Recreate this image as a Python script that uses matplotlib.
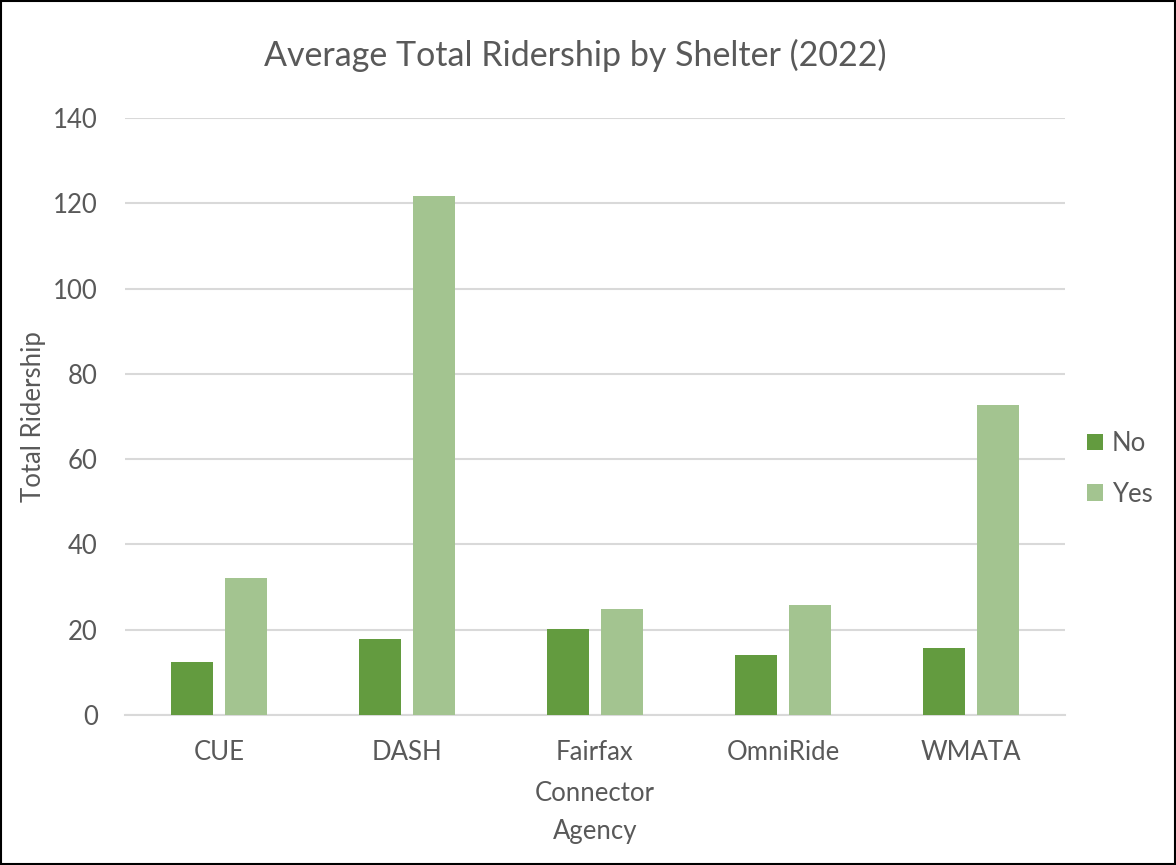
import matplotlib
matplotlib.use("Agg")
import matplotlib.pyplot as plt
import numpy as np

categories = ["CUE", "DASH", "Fairfax\nConnector", "OmniRide", "WMATA"]
no_values = [12.4, 17.8, 20.2, 14.0, 15.8]
yes_values = [32.2, 121.8, 24.9, 25.9, 72.6]
series_names = ["No", "Yes"]
yticks = [0, 20, 40, 60, 80, 100, 120, 140]

c_no = "#639B3F"
c_yes = "#A3C490"
txt = "#595959"
grid = "#D9D9D9"

plt.rcParams['font.family'] = ['Lato', 'DejaVu Sans']

fig = plt.figure(figsize=(11.76, 8.65), dpi=100)
ax = fig.add_axes([125/1176, 1 - 715/865, 940/1176, (715-118)/865])

x = np.arange(len(categories))
w = 0.223
off = 0.1436
ax.bar(x - off, no_values, width=w, color=c_no, label=series_names[0], zorder=3)
ax.bar(x + off, yes_values, width=w, color=c_yes, label=series_names[1], zorder=3)

ax.set_xlim(-0.5, len(categories) - 0.5)
ax.set_ylim(0, 140)
ax.set_yticks(yticks)
ax.yaxis.grid(True, color=grid, linewidth=1.5, zorder=0)
ax.set_axisbelow(True)
for s in ["top", "right", "left"]:
    ax.spines[s].set_visible(False)
ax.spines["bottom"].set_color(grid)
ax.spines["bottom"].set_linewidth(1.5)
ax.tick_params(axis="both", length=0, colors=txt, labelsize=18.5)
ax.tick_params(axis="y", pad=19.5)
ax.tick_params(axis="x", pad=18)
ax.set_xticks(x)
ax.set_xticklabels(categories, linespacing=1.78)

ax.set_xlabel("Agency", fontsize=18.5, color=txt, labelpad=10)
ax.set_ylabel("Total Ridership", fontsize=18.5, color=txt, labelpad=5)
fig.text(575/1176, 1 - 55/865, "Average Total Ridership by Shelter (2022)",
         ha="center", va="center", fontsize=24.5, color=txt)

leg = fig.legend(loc="center left", bbox_to_anchor=(1064/1176, 1 - 469/865),
                 frameon=False, fontsize=18.5, labelcolor=txt,
                 handlelength=0.62, handleheight=0.62, handletextpad=0.35,
                 labelspacing=1.0)

fig.patches.append(plt.Rectangle((0.001, 0.001), 0.998, 0.998, transform=fig.transFigure,
                                 fill=False, edgecolor="black", linewidth=1.5))

fig.savefig("out.png", dpi=100)
